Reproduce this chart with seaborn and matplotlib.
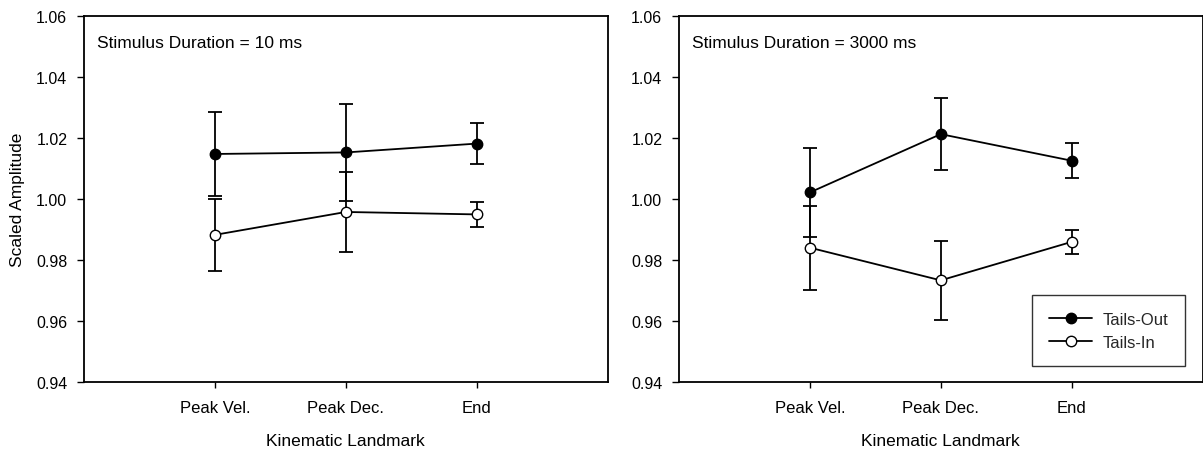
import matplotlib
matplotlib.use("Agg")
import matplotlib.pyplot as plt
import seaborn as sns
import numpy as np
import pandas as pd

landmarks = ["Peak Vel.", "Peak Dec.", "End"]
positions = [1, 2, 3]

# Stimulus Duration = 10 ms
out_10 = [1.0148, 1.0153, 1.0182]
out_10_err = [0.0137, 0.0158, 0.0066]
in_10 = [0.9883, 0.9958, 0.9950]
in_10_err = [0.0118, 0.0131, 0.0041]

# Stimulus Duration = 3000 ms
out_3000 = [1.0022, 1.0213, 1.0126]
out_3000_err = [0.0145, 0.0117, 0.0057]
in_3000 = [0.9841, 0.9734, 0.9860]
in_3000_err = [0.0138, 0.0129, 0.0039]

titles = ["Stimulus Duration = 10 ms", "Stimulus Duration = 3000 ms"]
yticks = [0.94, 0.96, 0.98, 1.00, 1.02, 1.04, 1.06]

sns.set_theme(style="white")
plt.rcParams["font.family"] = ["Liberation Sans", "DejaVu Sans"]

fig = plt.figure(figsize=(12.03, 4.56), dpi=100)
ax1 = fig.add_axes([84 / 1203, 1 - 383.3 / 456, 523.7 / 1203, 366.3 / 456])
ax2 = fig.add_axes([679 / 1203, 1 - 383.3 / 456, 523.5 / 1203, 366.3 / 456])

panels = [
    (ax1, out_10, out_10_err, in_10, in_10_err, titles[0]),
    (ax2, out_3000, out_3000_err, in_3000, in_3000_err, titles[1]),
]

for i, (ax, out_v, out_e, in_v, in_e, title) in enumerate(panels):
    for vals, errs, fc, lab in [(out_v, out_e, "black", "Tails-Out"),
                                (in_v, in_e, "white", "Tails-In")]:
        df = pd.DataFrame({"x": positions, "y": vals})
        ax.errorbar(positions, vals, yerr=errs, fmt="none", ecolor="black",
                    elinewidth=1.3, capsize=5, capthick=1.3, zorder=2)
        sns.lineplot(data=df, x="x", y="y", ax=ax, color="black", linewidth=1.3,
                     marker="o", markersize=7.5, markerfacecolor=fc,
                     markeredgecolor="black", markeredgewidth=1.0,
                     label=lab, zorder=3)
    ax.set_xlim(0, 4)
    ax.set_ylim(0.94, 1.06)
    ax.set_xticks(positions)
    ax.set_xticklabels(landmarks)
    ax.set_yticks(yticks)
    ax.set_yticklabels([f"{t:.2f}" for t in yticks])
    ax.tick_params(axis="y", direction="out", length=5, width=1, pad=7,
                   labelsize=11.5, colors="black", left=True)
    ax.tick_params(axis="x", direction="out", length=4, width=1, pad=9,
                   labelsize=12, colors="black", bottom=True)
    for s in ax.spines.values():
        s.set_color("black")
        s.set_linewidth(1.3)
    ax.set_xlabel("Kinematic Landmark", fontsize=12.5, labelpad=13, color="black")
    ax.set_ylabel("Scaled Amplitude" if i == 0 else "", fontsize=12.5,
                  labelpad=8, color="black")
    ax.text(0.025, 0.929, title, transform=ax.transAxes, fontsize=12.5,
            ha="left", va="center", color="black")
    ax.grid(False)
    if i == 0:
        ax.get_legend().remove()
    else:
        leg = ax.legend(loc="lower right", bbox_to_anchor=(0.966, 0.044),
                        frameon=True, fancybox=False, edgecolor="black",
                        fontsize=12, handlelength=2.6, handletextpad=0.6,
                        borderpad=1.0, labelspacing=0.45, borderaxespad=0)
        leg.get_frame().set_linewidth(1.0)

fig.savefig("out.png", dpi=100)
